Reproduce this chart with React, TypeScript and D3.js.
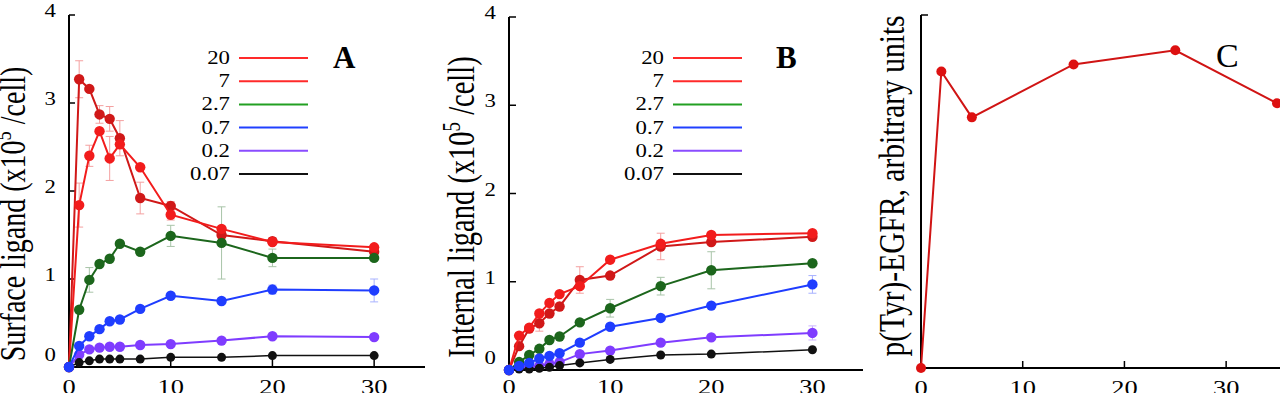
import React from "react";
import * as d3 from "d3";

// time points (min) shared by panels A and B
const times = [0, 1, 2, 3, 4, 5, 7, 10, 15, 20, 30];
const concentrations = ["20", "7", "2.7", "0.7", "0.2", "0.07"];

// panel A: surface ligand (x10^5 /cell)
const surface20 = [0, 3.27, 3.16, 2.87, 2.82, 2.6, 1.92, 1.83, 1.5, 1.43, 1.31];
const surface7 = [0, 1.84, 2.4, 2.68, 2.37, 2.53, 2.27, 1.73, 1.57, 1.42, 1.36];
const surface27 = [0, 0.65, 0.99, 1.17, 1.23, 1.4, 1.31, 1.49, 1.41, 1.24, 1.24];
const surface07 = [0, 0.24, 0.35, 0.43, 0.52, 0.54, 0.66, 0.81, 0.75, 0.88, 0.87];
const surface02 = [0, 0.14, 0.2, 0.22, 0.23, 0.23, 0.25, 0.26, 0.3, 0.35, 0.34];
const surface007 = [0, 0.05, 0.07, 0.09, 0.09, 0.09, 0.09, 0.11, 0.11, 0.13, 0.13];

const errSurface20 = [0, 0.21, 0, 0.1, 0.14, 0.2, 0.18, 0.05, 0, 0.04, 0];
const errSurface7 = [0, 0.25, 0.12, 0, 0.25, 0, 0, 0.06, 0, 0, 0.03];
const errSurface27 = [0, 0, 0.14, 0, 0, 0, 0, 0.12, 0.41, 0.1, 0];
const errSurface07 = [0, 0, 0, 0, 0, 0, 0, 0, 0, 0.05, 0.13];
const errSurface02 = [0, 0, 0, 0, 0, 0, 0, 0, 0, 0, 0];
const errSurface007 = [0, 0, 0, 0, 0, 0, 0, 0, 0, 0, 0];

// panel B: internal ligand (x10^5 /cell)
const internal20 = [0, 0.27, 0.47, 0.53, 0.64, 0.72, 1.02, 1.07, 1.4, 1.45, 1.51];
const internal7 = [0, 0.39, 0.48, 0.64, 0.76, 0.86, 0.95, 1.25, 1.43, 1.53, 1.55];
const internal27 = [0, 0.09, 0.17, 0.24, 0.34, 0.38, 0.54, 0.7, 0.95, 1.13, 1.21];
const internal07 = [0, 0.045, 0.08, 0.13, 0.16, 0.19, 0.31, 0.49, 0.59, 0.73, 0.97];
const internal02 = [0, 0.03, 0.04, 0.045, 0.07, 0.09, 0.18, 0.22, 0.31, 0.37, 0.42];
const internal007 = [0, 0.01, 0.01, 0.02, 0.03, 0.05, 0.08, 0.12, 0.17, 0.18, 0.23];

const errInternal20 = [0, 0, 0, 0.09, 0, 0, 0.15, 0, 0.15, 0, 0];
const errInternal7 = [0, 0, 0, 0, 0, 0, 0, 0.03, 0, 0.03, 0.03];
const errInternal27 = [0, 0, 0, 0, 0, 0, 0, 0.1, 0.1, 0.21, 0];
const errInternal07 = [0, 0, 0, 0, 0, 0, 0, 0, 0, 0, 0.1];
const errInternal02 = [0, 0, 0, 0, 0, 0, 0, 0, 0, 0, 0.08];
const errInternal007 = [0, 0, 0, 0, 0, 0, 0, 0, 0, 0, 0];

// panel C: p(Tyr)-EGFR
const pTyrTimes = [0, 2, 5, 15, 25, 35];
const pTyrValues = [0, 0.84, 0.71, 0.86, 0.9, 0.75];

const yTicks = [0, 1, 2, 3, 4];
const xTicks = [0, 10, 20, 30];

const lineColors = ["#d01818", "#f21c1c", "#1c661c", "#1f3dff", "#7f3cff", "#111111"];
const legendColors = ["#ff2a2a", "#ff2a2a", "#22a022", "#2040ff", "#8a4cff", "#111111"];
const errColors = ["#f4a0a0", "#f4a0a0", "#a8c4a8", "#a8b2ff", "#cbb4ff", "#bbbbbb"];
const drawOrder = [0, 1, 2, 4, 5, 3];

const SERIF = "'Liberation Serif', 'Times New Roman', serif";
const SX = 1.2; // the figure is stretched sideways

function Txt({ x, y, size, anchor = "start", weight = "normal", rotate = 0, sx = SX, children }: any) {
  const tr = `translate(${x},${y}) scale(${sx},1)` + (rotate ? ` rotate(${rotate})` : "");
  return (
    <text transform={tr} fontFamily={SERIF} fontSize={size} textAnchor={anchor} fontWeight={weight} fill="#000">
      {children}
    </text>
  );
}

function LigandPanel({ xr, yr, values, errors, title, letter, letterX, legendX, labelX, labelY, labelSize, xTickLen, yTickLen }: any) {
  const x = d3.scaleLinear().domain([0, 35]).range(xr);
  const y = d3.scaleLinear().domain([0, 4]).range(yr);
  const line = d3
    .line<number>()
    .x((_, i) => x(times[i]))
    .y(d => y(d));

  return (
    <g>
      {/* axes */}
      <line x1={x(0)} x2={x(0)} y1={y(0)} y2={y(4)} stroke="#000" strokeWidth={2} />
      <line x1={x(0) - 1} x2={x(35)} y1={y(0)} y2={y(0)} stroke="#000" strokeWidth={2} />
      {yTicks.map(t => (
        <g key={"yt" + t}>
          <line x1={x(0)} x2={x(0) + yTickLen} y1={y(t)} y2={y(t)} stroke="#000" strokeWidth={1.5} />
          <Txt x={x(0) - 13} y={t === 0 ? y(t) - 6 : y(t) + 2} size={19} anchor="end">
            {t}
          </Txt>
        </g>
      ))}
      {xTicks.map(t => (
        <g key={"xt" + t}>
          {t > 0 && xTickLen > 0 && (
            <line x1={x(t)} x2={x(t)} y1={y(0)} y2={y(0) - xTickLen} stroke="#000" strokeWidth={1.5} />
          )}
          <Txt x={x(t)} y={394} size={22} anchor="middle">
            {t}
          </Txt>
        </g>
      ))}

      {/* error bars */}
      {drawOrder.map(s => (
        <g key={"err" + s} stroke={errColors[s]} strokeWidth={1}>
          {errors[s].map((e: number, i: number) =>
            e > 0 ? (
              <g key={i}>
                <line x1={x(times[i])} x2={x(times[i])} y1={y(values[s][i] - e)} y2={y(values[s][i] + e)} />
                <line x1={x(times[i]) - 4} x2={x(times[i]) + 4} y1={y(values[s][i] - e)} y2={y(values[s][i] - e)} />
                <line x1={x(times[i]) - 4} x2={x(times[i]) + 4} y1={y(values[s][i] + e)} y2={y(values[s][i] + e)} />
              </g>
            ) : null
          )}
        </g>
      ))}

      {/* series */}
      {drawOrder.map(s => (
        <g key={"s" + s}>
          <path d={line(values[s]) || ""} fill="none" stroke={lineColors[s]} strokeWidth={s === 5 ? 1.5 : 2} />
          {values[s].map((v: number, i: number) => (
            <circle key={i} cx={x(times[i])} cy={y(v)} r={s === 5 ? 4.5 : 5.2} fill={lineColors[s]} />
          ))}
        </g>
      ))}

      {/* legend */}
      {concentrations.map((c, i) => (
        <g key={"lg" + c}>
          <Txt x={legendX - 9} y={58 + i * 23.2 + 6} size={19} anchor="end">
            {c}
          </Txt>
          <line x1={legendX} x2={legendX + 69} y1={58 + i * 23.2} y2={58 + i * 23.2} stroke={legendColors[i]} strokeWidth={2} />
        </g>
      ))}
      <Txt x={letterX} y={68} size={31} weight="bold" sx={1}>
        {letter}
      </Txt>

      {/* y label */}
      <Txt x={labelX} y={labelY} size={labelSize} anchor="middle" rotate={-90} sx={1.3}>
        {title} (x10
        <tspan dy={-labelSize * 0.38} fontSize={labelSize * 0.66}>
          5
        </tspan>
        <tspan dy={labelSize * 0.38}> /cell)</tspan>
      </Txt>
    </g>
  );
}

function PhosphoPanel() {
  const x = d3.scaleLinear().domain([0, 35]).range([921, 1277]);
  const y = d3.scaleLinear().domain([0, 1]).range([368, 15]);
  const line = d3
    .line<number>()
    .x((_, i) => x(pTyrTimes[i]))
    .y(d => y(d));

  return (
    <g>
      <line x1={x(0)} x2={x(0)} y1={y(0)} y2={y(1)} stroke="#000" strokeWidth={2} />
      <line x1={x(0)} x2={x(0) + 7} y1={y(1)} y2={y(1)} stroke="#000" strokeWidth={1.5} />
      <line x1={x(0) - 1} x2={1280} y1={y(0)} y2={y(0)} stroke="#000" strokeWidth={2} />
      {xTicks.map(t => (
        <g key={"cx" + t}>
          {t > 0 && <line x1={x(t)} x2={x(t)} y1={y(0)} y2={y(0) - 7} stroke="#000" strokeWidth={1.5} />}
          <Txt x={x(t)} y={395} size={22} anchor="middle">
            {t}
          </Txt>
        </g>
      ))}
      <path d={line(pTyrValues) || ""} fill="none" stroke="#d01414" strokeWidth={2} />
      {pTyrValues.map((v, i) => (
        <circle key={i} cx={x(pTyrTimes[i])} cy={y(v)} r={5} fill="#dd1111" />
      ))}
      <Txt x={1216} y={67} size={34} sx={1}>
        C
      </Txt>
      <Txt x={904} y={186} size={29.5} anchor="middle" rotate={-90}>
        p(Tyr)-EGFR, arbitrary units
      </Txt>
    </g>
  );
}

export default function App() {
  const surface = [surface20, surface7, surface27, surface07, surface02, surface007];
  const surfaceErr = [errSurface20, errSurface7, errSurface27, errSurface07, errSurface02, errSurface007];
  const internal = [internal20, internal7, internal27, internal07, internal02, internal007];
  const internalErr = [errInternal20, errInternal7, errInternal27, errInternal07, errInternal02, errInternal007];

  return (
    <svg
      width={1280}
      height={393}
      style={{ position: "absolute", left: 0, top: 0, background: "#fff" }}
    >
      <rect width={1280} height={393} fill="#fff" />
      <LigandPanel
        xr={[69, 425]}
        yr={[367, 15]}
        values={surface}
        errors={surfaceErr}
        title="Surface ligand"
        letter="A"
        letterX={333}
        legendX={239}
        labelX={25}
        labelY={214}
        labelSize={28}
        xTickLen={9}
        yTickLen={6}
      />
      <LigandPanel
        xr={[509, 863]}
        yr={[370, 17]}
        values={internal}
        errors={internalErr}
        title="Internal ligand"
        letter="B"
        letterX={776}
        legendX={673}
        labelX={474}
        labelY={207}
        labelSize={28.5}
        xTickLen={0}
        yTickLen={7}
      />
      <PhosphoPanel />
    </svg>
  );
}
